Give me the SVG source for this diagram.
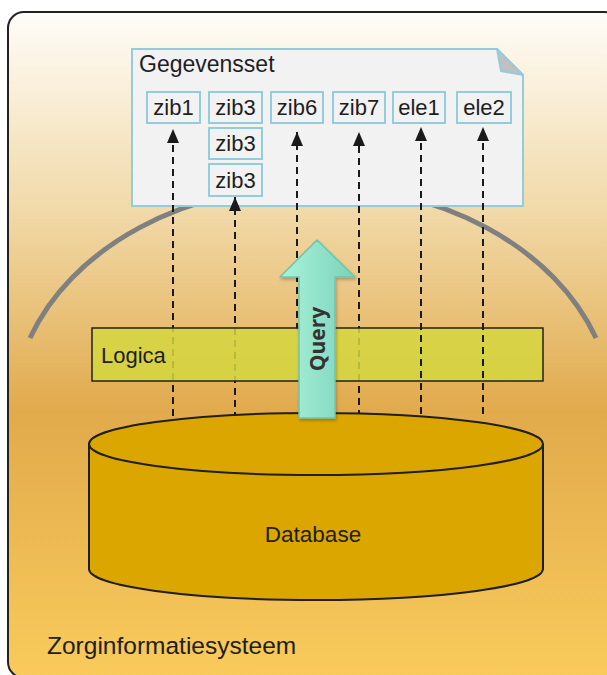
<svg xmlns="http://www.w3.org/2000/svg" width="607" height="675" viewBox="0 0 607 675">
  <defs>
    <linearGradient id="bg" x1="0" y1="0" x2="0" y2="1">
      <stop offset="0" stop-color="#fffdf9"/>
      <stop offset="0.3" stop-color="#f1d9a8"/>
      <stop offset="0.6" stop-color="#e1aa4c"/>
      <stop offset="1" stop-color="#f9cb5b"/>
    </linearGradient>
    <linearGradient id="qg" x1="0" y1="0" x2="1" y2="0">
      <stop offset="0" stop-color="#aaf3dc"/>
      <stop offset="1" stop-color="#7bd2b9"/>
    </linearGradient>
    <marker id="ah" viewBox="0 0 14 12" refX="14" refY="6" markerWidth="14" markerHeight="12" markerUnits="userSpaceOnUse" orient="auto">
      <path d="M0,0 L14,6 L0,12 Z" fill="#1a1a1a"/>
    </marker>
    <filter id="sh" x="-20%" y="-10%" width="140%" height="130%">
      <feDropShadow dx="1" dy="2" stdDeviation="1.5" flood-color="#000" flood-opacity="0.25"/>
    </filter>
  </defs>
  <style>
    text { font-family: "Liberation Sans", Arial, sans-serif; fill: #1e1e1e; }
    .box { fill: #f2f2f2; stroke: #92cddc; stroke-width: 2; }
    .lbl { font-size: 22px; text-anchor: middle; }
    .dash { stroke: #1a1a1a; stroke-width: 2; stroke-dasharray: 7 5; fill: none; }
  </style>

  <g id="zorginformatiesysteem">
    <rect x="8" y="12" width="612" height="666" rx="16" fill="url(#bg)" stroke="#222" stroke-width="2"/>
    <text x="47" y="654" font-size="24.5">Zorginformatiesysteem</text>
  </g>

  <g id="arc">
    <path d="M30,338 A300,228 0 0 1 596,338" fill="none" stroke="#808080" stroke-width="5"/>
  </g>

  <g id="gegevensset">
    <path d="M132,49 L497,49 L523,75 L523,206 L132,206 Z" class="box"/>
    <path d="M497,49 L501,71 L523,75 Z" fill="#c0c0c0" stroke="#92cddc" stroke-width="2" stroke-linejoin="round"/>
    <text x="139" y="72" font-size="23">Gegevensset</text>
    <g id="zib1"><rect class="box" x="147" y="92" width="53" height="31"/><text class="lbl" x="173.5" y="115">zib1</text></g>
    <g id="zib3a"><rect class="box" x="209" y="92" width="53" height="31"/><text class="lbl" x="235.5" y="115">zib3</text></g>
    <g id="zib6"><rect class="box" x="271" y="92" width="52" height="31"/><text class="lbl" x="297" y="115">zib6</text></g>
    <g id="zib7"><rect class="box" x="333" y="92" width="52" height="31"/><text class="lbl" x="359" y="115">zib7</text></g>
    <g id="ele1"><rect class="box" x="393" y="92" width="52" height="31"/><text class="lbl" x="419" y="115">ele1</text></g>
    <g id="ele2"><rect class="box" x="457" y="92" width="54" height="31"/><text class="lbl" x="484" y="115">ele2</text></g>
    <g id="zib3b"><rect class="box" x="209" y="128" width="53" height="31"/><text class="lbl" x="235.5" y="151">zib3</text></g>
    <g id="zib3c"><rect class="box" x="209" y="164" width="53" height="32"/><text class="lbl" x="235.5" y="188">zib3</text></g>
  </g>

  <g id="connectors-back">
    <line class="dash" x1="173" y1="416" x2="173" y2="129" marker-end="url(#ah)"/>
    <line class="dash" x1="235" y1="419" x2="235" y2="197" marker-end="url(#ah)"/>
    <line class="dash" x1="297" y1="330" x2="297" y2="132" marker-end="url(#ah)"/>
    <line class="dash" x1="359" y1="417" x2="359" y2="132" marker-end="url(#ah)"/>
  </g>

  <g id="logica">
    <rect x="92" y="328" width="451" height="53" fill="#d5d740" fill-opacity="0.85" stroke="#222" stroke-width="1.5"/>
    <text x="101" y="363" font-size="22">Logica</text>
  </g>

  <g id="connectors-front">
    <line class="dash" x1="421" y1="414" x2="421" y2="127" marker-end="url(#ah)"/>
    <line class="dash" x1="483" y1="414" x2="483" y2="127" marker-end="url(#ah)"/>
  </g>

  <g id="database">
    <path d="M89,444 L89,569 A227,31 0 0 0 543,569 L543,444" fill="#dca600" stroke="#1f1f1f" stroke-width="2"/>
    <ellipse cx="316" cy="444" rx="227" ry="31" fill="#dca600" stroke="#1f1f1f" stroke-width="2"/>
    <text x="313" y="542" font-size="22.5" text-anchor="middle">Database</text>
  </g>

  <g id="query">
    <path d="M299,418 L299,277 L280,277 L317,240 L355,277 L335,277 L335,418 Z" fill="url(#qg)" stroke="#72c4a9" stroke-width="1.5" stroke-linejoin="round" filter="url(#sh)"/>
    <text transform="translate(325,339) rotate(-90)" font-family="'Open Sans', 'DejaVu Sans', sans-serif" font-size="21" font-weight="700" text-anchor="middle" fill="#333" style="font-family:'Open Sans','DejaVu Sans',sans-serif;fill:#333">Query</text>
  </g>
</svg>
